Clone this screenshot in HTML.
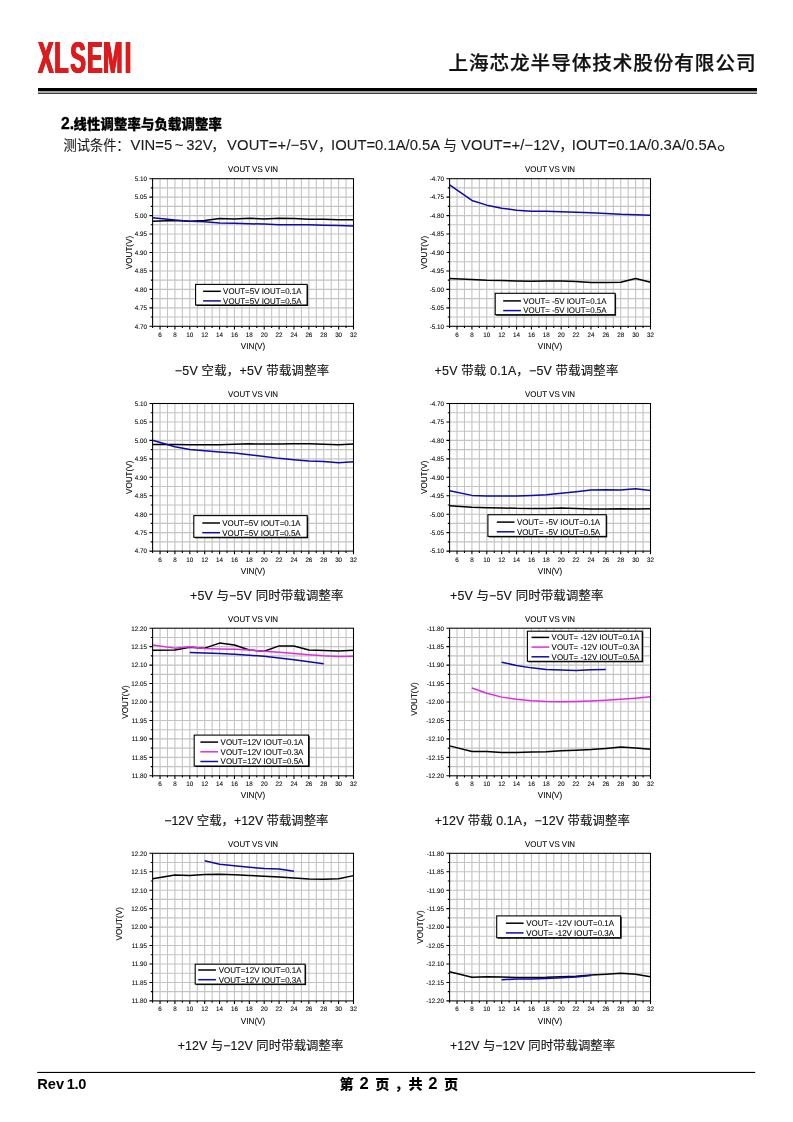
<!DOCTYPE html>
<html lang="zh-CN">
<head>
<meta charset="utf-8">
<title>XLSEMI</title>
<style>
html,body{margin:0;padding:0;background:#fff;}
body{width:793px;height:1122px;overflow:hidden;position:relative;}
svg{position:absolute;left:0;top:0;display:block;}
svg text{font-family:"Liberation Sans","Noto Sans CJK SC",sans-serif;fill:#111;}
svg text.cj{font-family:"Liberation Sans","Noto Sans CJK SC",sans-serif;fill:#222;}
.ch text{fill:#000;stroke:#000;stroke-width:0.08px;text-rendering:geometricPrecision;}
.ch text.cj{fill:#151515;stroke:#151515;stroke-width:0.15px;text-rendering:auto;}
</style>
</head>
<body>
<svg width="793" height="1122" viewBox="0 0 793 1122">
<rect width="793" height="1122" fill="#fff"/>
<!-- header -->
<g style="filter:drop-shadow(0.7px 0 0 #dd1a1c) drop-shadow(-0.7px 0 0 #dd1a1c)"><text transform="translate(0 72.9) scale(0.522 1)" x="73.75 104.79 135.63 167.43 198.47 239.85" y="0" font-size="44.9" font-weight="bold" style="fill:#dd1a1c">XLSEMI</text></g>
<text x="448.5" y="70.2" font-size="19.6" font-weight="500" textLength="307" lengthAdjust="spacing" style="fill:#111;stroke:#111;stroke-width:0.25">上海芯龙半导体技术股份有限公司</text>
<rect x="38" y="88" width="719" height="3" fill="#000"/>
<rect x="38" y="91" width="719" height="2" fill="#a8a8a8"/>
<rect x="38" y="93" width="719" height="1" fill="#404040"/>
<!-- section -->
<text y="128.9" style="fill:#000;stroke:#000;stroke-width:0.3" font-weight="bold"><tspan x="61" font-size="15.7">2.</tspan><tspan x="73.6" font-size="13.3" font-weight="900" textLength="148.2" lengthAdjust="spacing">线性调整率与负载调整率</tspan></text>
<text y="150.4" style="fill:#1c1c1c;stroke:#1c1c1c;stroke-width:0.12" font-size="14.8"><tspan x="63.6" font-size="13.3" textLength="66" lengthAdjust="spacing">测试条件：</tspan><tspan x="130.6">VIN=5</tspan><tspan x="174.7">~</tspan><tspan x="186.3">32V</tspan><tspan x="211.4" font-size="13.3">，</tspan><tspan x="227" textLength="90.8" lengthAdjust="spacing">VOUT=+/−5V</tspan><tspan x="318.2" font-size="13.3">，</tspan><tspan x="331.1">IOUT=0.1A/0.5A</tspan><tspan x="443.6" font-size="13.3">与</tspan><tspan x="461.1" textLength="98.6" lengthAdjust="spacing">VOUT=+/−12V</tspan><tspan x="559.4" font-size="13.3">，</tspan><tspan x="571.8" textLength="144.9" lengthAdjust="spacing">IOUT=0.1A/0.3A/0.5A</tspan><tspan x="717" dy="-1.9" font-size="21">。</tspan></text>
<!-- charts -->
<g class="ch"><path d="M160.04 178.7V326.3M167.48 178.7V326.3M174.92 178.7V326.3M182.36 178.7V326.3M189.8 178.7V326.3M197.24 178.7V326.3M204.69 178.7V326.3M212.13 178.7V326.3M219.57 178.7V326.3M227.01 178.7V326.3M234.45 178.7V326.3M241.89 178.7V326.3M249.33 178.7V326.3M256.77 178.7V326.3M264.21 178.7V326.3M271.65 178.7V326.3M279.09 178.7V326.3M286.53 178.7V326.3M293.97 178.7V326.3M301.41 178.7V326.3M308.86 178.7V326.3M316.3 178.7V326.3M323.74 178.7V326.3M331.18 178.7V326.3M338.62 178.7V326.3M346.06 178.7V326.3M152.6 187.92H353.5M152.6 197.15H353.5M152.6 206.38H353.5M152.6 215.6H353.5M152.6 224.82H353.5M152.6 234.05H353.5M152.6 243.27H353.5M152.6 252.5H353.5M152.6 261.72H353.5M152.6 270.95H353.5M152.6 280.17H353.5M152.6 289.4H353.5M152.6 298.62H353.5M152.6 307.85H353.5M152.6 317.07H353.5" stroke="#c4c4c4" stroke-width="1.1" fill="none"/><polyline points="152.6,221.13 174.92,220.4 189.8,221.13 204.69,220.4 219.57,218.55 234.45,218.92 249.33,218.18 264.21,218.92 279.09,218.18 293.97,218.55 308.86,219.29 323.74,219.29 338.62,219.66 353.5,219.66" stroke="#000000" stroke-width="1.5" fill="none" stroke-linejoin="round"/><polyline points="152.6,217.81 174.92,220.03 189.8,221.13 204.69,221.87 219.57,222.98 234.45,223.35 249.33,223.72 264.21,224.09 279.09,224.83 293.97,224.83 308.86,224.83 323.74,225.19 338.62,225.56 353.5,225.93" stroke="#0c0ca8" stroke-width="1.5" fill="none" stroke-linejoin="round"/><rect x="152.6" y="178.7" width="200.9" height="147.6" fill="none" stroke="#000" stroke-width="1.05"/><path d="M152.6 326.3v1.8M160.04 326.3v3.2M167.48 326.3v1.8M174.92 326.3v3.2M182.36 326.3v1.8M189.8 326.3v3.2M197.24 326.3v1.8M204.69 326.3v3.2M212.13 326.3v1.8M219.57 326.3v3.2M227.01 326.3v1.8M234.45 326.3v3.2M241.89 326.3v1.8M249.33 326.3v3.2M256.77 326.3v1.8M264.21 326.3v3.2M271.65 326.3v1.8M279.09 326.3v3.2M286.53 326.3v1.8M293.97 326.3v3.2M301.41 326.3v1.8M308.86 326.3v3.2M316.3 326.3v1.8M323.74 326.3v3.2M331.18 326.3v1.8M338.62 326.3v3.2M346.06 326.3v1.8M353.5 326.3v3.2M152.6 178.7h-3.2M152.6 187.92h-1.8M152.6 197.15h-3.2M152.6 206.38h-1.8M152.6 215.6h-3.2M152.6 224.82h-1.8M152.6 234.05h-3.2M152.6 243.27h-1.8M152.6 252.5h-3.2M152.6 261.72h-1.8M152.6 270.95h-3.2M152.6 280.17h-1.8M152.6 289.4h-3.2M152.6 298.62h-1.8M152.6 307.85h-3.2M152.6 317.07h-1.8M152.6 326.3h-3.2" stroke="#000" stroke-width="1.1" fill="none"/><text transform="translate(160.04 336.7) scale(0.955 1)" font-size="6.55" text-anchor="middle">6</text><text transform="translate(174.92 336.7) scale(0.955 1)" font-size="6.55" text-anchor="middle">8</text><text transform="translate(189.8 336.7) scale(0.955 1)" font-size="6.55" text-anchor="middle">10</text><text transform="translate(204.69 336.7) scale(0.955 1)" font-size="6.55" text-anchor="middle">12</text><text transform="translate(219.57 336.7) scale(0.955 1)" font-size="6.55" text-anchor="middle">14</text><text transform="translate(234.45 336.7) scale(0.955 1)" font-size="6.55" text-anchor="middle">16</text><text transform="translate(249.33 336.7) scale(0.955 1)" font-size="6.55" text-anchor="middle">18</text><text transform="translate(264.21 336.7) scale(0.955 1)" font-size="6.55" text-anchor="middle">20</text><text transform="translate(279.09 336.7) scale(0.955 1)" font-size="6.55" text-anchor="middle">22</text><text transform="translate(293.97 336.7) scale(0.955 1)" font-size="6.55" text-anchor="middle">24</text><text transform="translate(308.86 336.7) scale(0.955 1)" font-size="6.55" text-anchor="middle">26</text><text transform="translate(323.74 336.7) scale(0.955 1)" font-size="6.55" text-anchor="middle">28</text><text transform="translate(338.62 336.7) scale(0.955 1)" font-size="6.55" text-anchor="middle">30</text><text transform="translate(353.5 336.7) scale(0.955 1)" font-size="6.55" text-anchor="middle">32</text><text transform="translate(147 181) scale(0.955 1)" font-size="6.55" text-anchor="end">5.10</text><text transform="translate(147 199.45) scale(0.955 1)" font-size="6.55" text-anchor="end">5.05</text><text transform="translate(147 217.9) scale(0.955 1)" font-size="6.55" text-anchor="end">5.00</text><text transform="translate(147 236.35) scale(0.955 1)" font-size="6.55" text-anchor="end">4.95</text><text transform="translate(147 254.8) scale(0.955 1)" font-size="6.55" text-anchor="end">4.90</text><text transform="translate(147 273.25) scale(0.955 1)" font-size="6.55" text-anchor="end">4.85</text><text transform="translate(147 291.7) scale(0.955 1)" font-size="6.55" text-anchor="end">4.80</text><text transform="translate(147 310.15) scale(0.955 1)" font-size="6.55" text-anchor="end">4.75</text><text transform="translate(147 328.6) scale(0.955 1)" font-size="6.55" text-anchor="end">4.70</text><text transform="translate(253.05 172.2) scale(0.955 1)" font-size="8.3" text-anchor="middle">VOUT VS VIN</text><text transform="translate(253.05 348.9) scale(0.955 1)" font-size="8.5" text-anchor="middle">VIN(V)</text><text transform="translate(131.7 252.5) rotate(-90) scale(0.955 1)" font-size="8.5" text-anchor="middle">VOUT(V)</text><rect x="196.6" y="285.4" width="111.5" height="20.6" fill="#000"/><rect x="195.6" y="284.4" width="111.5" height="20.6" fill="#fff" stroke="#000" stroke-width="1.1"/><path d="M203.1 291.3H220.8" stroke="#000000" stroke-width="1.5"/><text transform="translate(223.1 294.15) scale(0.955 1)" font-size="8.3">VOUT=5V IOUT=0.1A</text><path d="M203.1 300.9H220.8" stroke="#0c0ca8" stroke-width="1.5"/><text transform="translate(223.1 303.75) scale(0.955 1)" font-size="8.3">VOUT=5V IOUT=0.5A</text><text class="cj" x="174.8" y="375.1" font-size="12.4" textLength="154.4" lengthAdjust="spacing">−5V 空载，+5V 带载调整率</text></g>
<g class="ch"><path d="M457.04 178.7V326.3M464.48 178.7V326.3M471.92 178.7V326.3M479.36 178.7V326.3M486.8 178.7V326.3M494.24 178.7V326.3M501.69 178.7V326.3M509.13 178.7V326.3M516.57 178.7V326.3M524.01 178.7V326.3M531.45 178.7V326.3M538.89 178.7V326.3M546.33 178.7V326.3M553.77 178.7V326.3M561.21 178.7V326.3M568.65 178.7V326.3M576.09 178.7V326.3M583.53 178.7V326.3M590.97 178.7V326.3M598.41 178.7V326.3M605.86 178.7V326.3M613.3 178.7V326.3M620.74 178.7V326.3M628.18 178.7V326.3M635.62 178.7V326.3M643.06 178.7V326.3M449.6 187.92H650.5M449.6 197.15H650.5M449.6 206.38H650.5M449.6 215.6H650.5M449.6 224.82H650.5M449.6 234.05H650.5M449.6 243.27H650.5M449.6 252.5H650.5M449.6 261.72H650.5M449.6 270.95H650.5M449.6 280.17H650.5M449.6 289.4H650.5M449.6 298.62H650.5M449.6 307.85H650.5M449.6 317.07H650.5" stroke="#c4c4c4" stroke-width="1.1" fill="none"/><polyline points="449.6,278.4 471.92,279.51 486.8,280.36 501.69,280.62 516.57,280.91 531.45,281.32 546.33,280.91 561.21,280.91 576.09,281.47 590.97,282.43 605.86,282.57 620.74,282.32 635.62,278.4 650.5,282.32" stroke="#000000" stroke-width="1.5" fill="none" stroke-linejoin="round"/><polyline points="449.6,184.83 471.92,200.43 486.8,205.16 501.69,208.22 516.57,210.18 531.45,211.28 546.33,211.28 561.21,211.69 576.09,212.13 590.97,212.83 605.86,213.5 620.74,214.35 635.62,214.75 650.5,215.19" stroke="#0c0ca8" stroke-width="1.5" fill="none" stroke-linejoin="round"/><rect x="449.6" y="178.7" width="200.9" height="147.6" fill="none" stroke="#000" stroke-width="1.05"/><path d="M449.6 326.3v1.8M457.04 326.3v3.2M464.48 326.3v1.8M471.92 326.3v3.2M479.36 326.3v1.8M486.8 326.3v3.2M494.24 326.3v1.8M501.69 326.3v3.2M509.13 326.3v1.8M516.57 326.3v3.2M524.01 326.3v1.8M531.45 326.3v3.2M538.89 326.3v1.8M546.33 326.3v3.2M553.77 326.3v1.8M561.21 326.3v3.2M568.65 326.3v1.8M576.09 326.3v3.2M583.53 326.3v1.8M590.97 326.3v3.2M598.41 326.3v1.8M605.86 326.3v3.2M613.3 326.3v1.8M620.74 326.3v3.2M628.18 326.3v1.8M635.62 326.3v3.2M643.06 326.3v1.8M650.5 326.3v3.2M449.6 178.7h-3.2M449.6 187.92h-1.8M449.6 197.15h-3.2M449.6 206.38h-1.8M449.6 215.6h-3.2M449.6 224.82h-1.8M449.6 234.05h-3.2M449.6 243.27h-1.8M449.6 252.5h-3.2M449.6 261.72h-1.8M449.6 270.95h-3.2M449.6 280.17h-1.8M449.6 289.4h-3.2M449.6 298.62h-1.8M449.6 307.85h-3.2M449.6 317.07h-1.8M449.6 326.3h-3.2" stroke="#000" stroke-width="1.1" fill="none"/><text transform="translate(457.04 336.7) scale(0.955 1)" font-size="6.55" text-anchor="middle">6</text><text transform="translate(471.92 336.7) scale(0.955 1)" font-size="6.55" text-anchor="middle">8</text><text transform="translate(486.8 336.7) scale(0.955 1)" font-size="6.55" text-anchor="middle">10</text><text transform="translate(501.69 336.7) scale(0.955 1)" font-size="6.55" text-anchor="middle">12</text><text transform="translate(516.57 336.7) scale(0.955 1)" font-size="6.55" text-anchor="middle">14</text><text transform="translate(531.45 336.7) scale(0.955 1)" font-size="6.55" text-anchor="middle">16</text><text transform="translate(546.33 336.7) scale(0.955 1)" font-size="6.55" text-anchor="middle">18</text><text transform="translate(561.21 336.7) scale(0.955 1)" font-size="6.55" text-anchor="middle">20</text><text transform="translate(576.09 336.7) scale(0.955 1)" font-size="6.55" text-anchor="middle">22</text><text transform="translate(590.97 336.7) scale(0.955 1)" font-size="6.55" text-anchor="middle">24</text><text transform="translate(605.86 336.7) scale(0.955 1)" font-size="6.55" text-anchor="middle">26</text><text transform="translate(620.74 336.7) scale(0.955 1)" font-size="6.55" text-anchor="middle">28</text><text transform="translate(635.62 336.7) scale(0.955 1)" font-size="6.55" text-anchor="middle">30</text><text transform="translate(650.5 336.7) scale(0.955 1)" font-size="6.55" text-anchor="middle">32</text><text transform="translate(444 181) scale(0.955 1)" font-size="6.55" text-anchor="end">-4.70</text><text transform="translate(444 199.45) scale(0.955 1)" font-size="6.55" text-anchor="end">-4.75</text><text transform="translate(444 217.9) scale(0.955 1)" font-size="6.55" text-anchor="end">-4.80</text><text transform="translate(444 236.35) scale(0.955 1)" font-size="6.55" text-anchor="end">-4.85</text><text transform="translate(444 254.8) scale(0.955 1)" font-size="6.55" text-anchor="end">-4.90</text><text transform="translate(444 273.25) scale(0.955 1)" font-size="6.55" text-anchor="end">-4.95</text><text transform="translate(444 291.7) scale(0.955 1)" font-size="6.55" text-anchor="end">-5.00</text><text transform="translate(444 310.15) scale(0.955 1)" font-size="6.55" text-anchor="end">-5.05</text><text transform="translate(444 328.6) scale(0.955 1)" font-size="6.55" text-anchor="end">-5.10</text><text transform="translate(550.05 172.2) scale(0.955 1)" font-size="8.3" text-anchor="middle">VOUT VS VIN</text><text transform="translate(550.05 348.9) scale(0.955 1)" font-size="8.5" text-anchor="middle">VIN(V)</text><text transform="translate(426.5 252.5) rotate(-90) scale(0.955 1)" font-size="8.5" text-anchor="middle">VOUT(V)</text><rect x="496.2" y="294.3" width="119.9" height="21.4" fill="#000"/><rect x="495.2" y="293.3" width="119.9" height="21.4" fill="#fff" stroke="#000" stroke-width="1.1"/><path d="M503.2 300.9H520.9" stroke="#000000" stroke-width="1.5"/><text transform="translate(523.3 303.75) scale(0.955 1)" font-size="8.3">VOUT= -5V IOUT=0.1A</text><path d="M503.2 310.6H520.9" stroke="#0c0ca8" stroke-width="1.5"/><text transform="translate(523.3 313.45) scale(0.955 1)" font-size="8.3">VOUT= -5V IOUT=0.5A</text><text class="cj" x="434.6" y="375.1" font-size="12.4" textLength="183.7" lengthAdjust="spacing">+5V 带载 0.1A，−5V 带载调整率</text></g>
<g class="ch"><path d="M160.04 403.5V551.1M167.48 403.5V551.1M174.92 403.5V551.1M182.36 403.5V551.1M189.8 403.5V551.1M197.24 403.5V551.1M204.69 403.5V551.1M212.13 403.5V551.1M219.57 403.5V551.1M227.01 403.5V551.1M234.45 403.5V551.1M241.89 403.5V551.1M249.33 403.5V551.1M256.77 403.5V551.1M264.21 403.5V551.1M271.65 403.5V551.1M279.09 403.5V551.1M286.53 403.5V551.1M293.97 403.5V551.1M301.41 403.5V551.1M308.86 403.5V551.1M316.3 403.5V551.1M323.74 403.5V551.1M331.18 403.5V551.1M338.62 403.5V551.1M346.06 403.5V551.1M152.6 412.73H353.5M152.6 421.95H353.5M152.6 431.18H353.5M152.6 440.4H353.5M152.6 449.62H353.5M152.6 458.85H353.5M152.6 468.07H353.5M152.6 477.3H353.5M152.6 486.52H353.5M152.6 495.75H353.5M152.6 504.98H353.5M152.6 514.2H353.5M152.6 523.42H353.5M152.6 532.65H353.5M152.6 541.88H353.5" stroke="#c4c4c4" stroke-width="1.1" fill="none"/><polyline points="152.6,444.46 174.92,444.46 189.8,444.83 204.69,444.83 219.57,444.83 234.45,444.31 249.33,443.87 264.21,444.09 279.09,444.09 293.97,443.87 308.86,443.87 323.74,444.31 338.62,444.83 353.5,444.09" stroke="#000000" stroke-width="1.5" fill="none" stroke-linejoin="round"/><polyline points="152.6,440.25 174.92,446.67 189.8,449.44 204.69,450.84 219.57,452.1 234.45,453.06 249.33,454.75 264.21,456.41 279.09,458.37 293.97,459.77 308.86,460.88 323.74,461.43 338.62,462.69 353.5,461.84" stroke="#0c0ca8" stroke-width="1.5" fill="none" stroke-linejoin="round"/><rect x="152.6" y="403.5" width="200.9" height="147.6" fill="none" stroke="#000" stroke-width="1.05"/><path d="M152.6 551.1v1.8M160.04 551.1v3.2M167.48 551.1v1.8M174.92 551.1v3.2M182.36 551.1v1.8M189.8 551.1v3.2M197.24 551.1v1.8M204.69 551.1v3.2M212.13 551.1v1.8M219.57 551.1v3.2M227.01 551.1v1.8M234.45 551.1v3.2M241.89 551.1v1.8M249.33 551.1v3.2M256.77 551.1v1.8M264.21 551.1v3.2M271.65 551.1v1.8M279.09 551.1v3.2M286.53 551.1v1.8M293.97 551.1v3.2M301.41 551.1v1.8M308.86 551.1v3.2M316.3 551.1v1.8M323.74 551.1v3.2M331.18 551.1v1.8M338.62 551.1v3.2M346.06 551.1v1.8M353.5 551.1v3.2M152.6 403.5h-3.2M152.6 412.73h-1.8M152.6 421.95h-3.2M152.6 431.18h-1.8M152.6 440.4h-3.2M152.6 449.62h-1.8M152.6 458.85h-3.2M152.6 468.07h-1.8M152.6 477.3h-3.2M152.6 486.52h-1.8M152.6 495.75h-3.2M152.6 504.98h-1.8M152.6 514.2h-3.2M152.6 523.42h-1.8M152.6 532.65h-3.2M152.6 541.88h-1.8M152.6 551.1h-3.2" stroke="#000" stroke-width="1.1" fill="none"/><text transform="translate(160.04 561.5) scale(0.955 1)" font-size="6.55" text-anchor="middle">6</text><text transform="translate(174.92 561.5) scale(0.955 1)" font-size="6.55" text-anchor="middle">8</text><text transform="translate(189.8 561.5) scale(0.955 1)" font-size="6.55" text-anchor="middle">10</text><text transform="translate(204.69 561.5) scale(0.955 1)" font-size="6.55" text-anchor="middle">12</text><text transform="translate(219.57 561.5) scale(0.955 1)" font-size="6.55" text-anchor="middle">14</text><text transform="translate(234.45 561.5) scale(0.955 1)" font-size="6.55" text-anchor="middle">16</text><text transform="translate(249.33 561.5) scale(0.955 1)" font-size="6.55" text-anchor="middle">18</text><text transform="translate(264.21 561.5) scale(0.955 1)" font-size="6.55" text-anchor="middle">20</text><text transform="translate(279.09 561.5) scale(0.955 1)" font-size="6.55" text-anchor="middle">22</text><text transform="translate(293.97 561.5) scale(0.955 1)" font-size="6.55" text-anchor="middle">24</text><text transform="translate(308.86 561.5) scale(0.955 1)" font-size="6.55" text-anchor="middle">26</text><text transform="translate(323.74 561.5) scale(0.955 1)" font-size="6.55" text-anchor="middle">28</text><text transform="translate(338.62 561.5) scale(0.955 1)" font-size="6.55" text-anchor="middle">30</text><text transform="translate(353.5 561.5) scale(0.955 1)" font-size="6.55" text-anchor="middle">32</text><text transform="translate(147 405.8) scale(0.955 1)" font-size="6.55" text-anchor="end">5.10</text><text transform="translate(147 424.25) scale(0.955 1)" font-size="6.55" text-anchor="end">5.05</text><text transform="translate(147 442.7) scale(0.955 1)" font-size="6.55" text-anchor="end">5.00</text><text transform="translate(147 461.15) scale(0.955 1)" font-size="6.55" text-anchor="end">4.95</text><text transform="translate(147 479.6) scale(0.955 1)" font-size="6.55" text-anchor="end">4.90</text><text transform="translate(147 498.05) scale(0.955 1)" font-size="6.55" text-anchor="end">4.85</text><text transform="translate(147 516.5) scale(0.955 1)" font-size="6.55" text-anchor="end">4.80</text><text transform="translate(147 534.95) scale(0.955 1)" font-size="6.55" text-anchor="end">4.75</text><text transform="translate(147 553.4) scale(0.955 1)" font-size="6.55" text-anchor="end">4.70</text><text transform="translate(253.05 397) scale(0.955 1)" font-size="8.3" text-anchor="middle">VOUT VS VIN</text><text transform="translate(253.05 573.7) scale(0.955 1)" font-size="8.5" text-anchor="middle">VIN(V)</text><text transform="translate(131.5 477.3) rotate(-90) scale(0.955 1)" font-size="8.5" text-anchor="middle">VOUT(V)</text><rect x="194.8" y="516.6" width="113.4" height="21.7" fill="#000"/><rect x="193.8" y="515.6" width="113.4" height="21.7" fill="#fff" stroke="#000" stroke-width="1.1"/><path d="M202.3 523H220" stroke="#000000" stroke-width="1.5"/><text transform="translate(222.2 525.85) scale(0.955 1)" font-size="8.3">VOUT=5V IOUT=0.1A</text><path d="M202.3 532.7H220" stroke="#0c0ca8" stroke-width="1.5"/><text transform="translate(222.2 535.55) scale(0.955 1)" font-size="8.3">VOUT=5V IOUT=0.5A</text><text class="cj" x="190" y="599.9" font-size="12.4" textLength="153.4" lengthAdjust="spacing">+5V 与−5V 同时带载调整率</text></g>
<g class="ch"><path d="M457.04 403.5V551.1M464.48 403.5V551.1M471.92 403.5V551.1M479.36 403.5V551.1M486.8 403.5V551.1M494.24 403.5V551.1M501.69 403.5V551.1M509.13 403.5V551.1M516.57 403.5V551.1M524.01 403.5V551.1M531.45 403.5V551.1M538.89 403.5V551.1M546.33 403.5V551.1M553.77 403.5V551.1M561.21 403.5V551.1M568.65 403.5V551.1M576.09 403.5V551.1M583.53 403.5V551.1M590.97 403.5V551.1M598.41 403.5V551.1M605.86 403.5V551.1M613.3 403.5V551.1M620.74 403.5V551.1M628.18 403.5V551.1M635.62 403.5V551.1M643.06 403.5V551.1M449.6 412.73H650.5M449.6 421.95H650.5M449.6 431.18H650.5M449.6 440.4H650.5M449.6 449.62H650.5M449.6 458.85H650.5M449.6 468.07H650.5M449.6 477.3H650.5M449.6 486.52H650.5M449.6 495.75H650.5M449.6 504.98H650.5M449.6 514.2H650.5M449.6 523.42H650.5M449.6 532.65H650.5M449.6 541.88H650.5" stroke="#c4c4c4" stroke-width="1.1" fill="none"/><polyline points="449.6,505.71 471.92,507.37 486.8,507.78 501.69,507.93 516.57,508.37 531.45,508.48 546.33,508.48 561.21,508.07 576.09,508.48 590.97,509.03 605.86,509.03 620.74,508.67 635.62,509.03 650.5,508.67" stroke="#000000" stroke-width="1.5" fill="none" stroke-linejoin="round"/><polyline points="449.6,490.66 471.92,495.38 486.8,495.97 501.69,496.12 516.57,495.97 531.45,495.53 546.33,494.83 561.21,493.17 576.09,491.76 590.97,490.1 605.86,489.7 620.74,490.1 635.62,488.85 650.5,490.4" stroke="#0c0ca8" stroke-width="1.5" fill="none" stroke-linejoin="round"/><rect x="449.6" y="403.5" width="200.9" height="147.6" fill="none" stroke="#000" stroke-width="1.05"/><path d="M449.6 551.1v1.8M457.04 551.1v3.2M464.48 551.1v1.8M471.92 551.1v3.2M479.36 551.1v1.8M486.8 551.1v3.2M494.24 551.1v1.8M501.69 551.1v3.2M509.13 551.1v1.8M516.57 551.1v3.2M524.01 551.1v1.8M531.45 551.1v3.2M538.89 551.1v1.8M546.33 551.1v3.2M553.77 551.1v1.8M561.21 551.1v3.2M568.65 551.1v1.8M576.09 551.1v3.2M583.53 551.1v1.8M590.97 551.1v3.2M598.41 551.1v1.8M605.86 551.1v3.2M613.3 551.1v1.8M620.74 551.1v3.2M628.18 551.1v1.8M635.62 551.1v3.2M643.06 551.1v1.8M650.5 551.1v3.2M449.6 403.5h-3.2M449.6 412.73h-1.8M449.6 421.95h-3.2M449.6 431.18h-1.8M449.6 440.4h-3.2M449.6 449.62h-1.8M449.6 458.85h-3.2M449.6 468.07h-1.8M449.6 477.3h-3.2M449.6 486.52h-1.8M449.6 495.75h-3.2M449.6 504.98h-1.8M449.6 514.2h-3.2M449.6 523.42h-1.8M449.6 532.65h-3.2M449.6 541.88h-1.8M449.6 551.1h-3.2" stroke="#000" stroke-width="1.1" fill="none"/><text transform="translate(457.04 561.5) scale(0.955 1)" font-size="6.55" text-anchor="middle">6</text><text transform="translate(471.92 561.5) scale(0.955 1)" font-size="6.55" text-anchor="middle">8</text><text transform="translate(486.8 561.5) scale(0.955 1)" font-size="6.55" text-anchor="middle">10</text><text transform="translate(501.69 561.5) scale(0.955 1)" font-size="6.55" text-anchor="middle">12</text><text transform="translate(516.57 561.5) scale(0.955 1)" font-size="6.55" text-anchor="middle">14</text><text transform="translate(531.45 561.5) scale(0.955 1)" font-size="6.55" text-anchor="middle">16</text><text transform="translate(546.33 561.5) scale(0.955 1)" font-size="6.55" text-anchor="middle">18</text><text transform="translate(561.21 561.5) scale(0.955 1)" font-size="6.55" text-anchor="middle">20</text><text transform="translate(576.09 561.5) scale(0.955 1)" font-size="6.55" text-anchor="middle">22</text><text transform="translate(590.97 561.5) scale(0.955 1)" font-size="6.55" text-anchor="middle">24</text><text transform="translate(605.86 561.5) scale(0.955 1)" font-size="6.55" text-anchor="middle">26</text><text transform="translate(620.74 561.5) scale(0.955 1)" font-size="6.55" text-anchor="middle">28</text><text transform="translate(635.62 561.5) scale(0.955 1)" font-size="6.55" text-anchor="middle">30</text><text transform="translate(650.5 561.5) scale(0.955 1)" font-size="6.55" text-anchor="middle">32</text><text transform="translate(444 405.8) scale(0.955 1)" font-size="6.55" text-anchor="end">-4.70</text><text transform="translate(444 424.25) scale(0.955 1)" font-size="6.55" text-anchor="end">-4.75</text><text transform="translate(444 442.7) scale(0.955 1)" font-size="6.55" text-anchor="end">-4.80</text><text transform="translate(444 461.15) scale(0.955 1)" font-size="6.55" text-anchor="end">-4.85</text><text transform="translate(444 479.6) scale(0.955 1)" font-size="6.55" text-anchor="end">-4.90</text><text transform="translate(444 498.05) scale(0.955 1)" font-size="6.55" text-anchor="end">-4.95</text><text transform="translate(444 516.5) scale(0.955 1)" font-size="6.55" text-anchor="end">-5.00</text><text transform="translate(444 534.95) scale(0.955 1)" font-size="6.55" text-anchor="end">-5.05</text><text transform="translate(444 553.4) scale(0.955 1)" font-size="6.55" text-anchor="end">-5.10</text><text transform="translate(550.05 397) scale(0.955 1)" font-size="8.3" text-anchor="middle">VOUT VS VIN</text><text transform="translate(550.05 573.7) scale(0.955 1)" font-size="8.5" text-anchor="middle">VIN(V)</text><text transform="translate(426.5 477.3) rotate(-90) scale(0.955 1)" font-size="8.5" text-anchor="middle">VOUT(V)</text><rect x="488.9" y="515.7" width="118.3" height="21.7" fill="#000"/><rect x="487.9" y="514.7" width="118.3" height="21.7" fill="#fff" stroke="#000" stroke-width="1.1"/><path d="M496.8 522.1H514.5" stroke="#000000" stroke-width="1.5"/><text transform="translate(516.9 524.95) scale(0.955 1)" font-size="8.3">VOUT= -5V IOUT=0.1A</text><path d="M496.8 531.8H514.5" stroke="#0c0ca8" stroke-width="1.5"/><text transform="translate(516.9 534.65) scale(0.955 1)" font-size="8.3">VOUT= -5V IOUT=0.5A</text><text class="cj" x="450" y="599.9" font-size="12.4" textLength="153.4" lengthAdjust="spacing">+5V 与−5V 同时带载调整率</text></g>
<g class="ch"><path d="M160.04 628.2V775.8M167.48 628.2V775.8M174.92 628.2V775.8M182.36 628.2V775.8M189.8 628.2V775.8M197.24 628.2V775.8M204.69 628.2V775.8M212.13 628.2V775.8M219.57 628.2V775.8M227.01 628.2V775.8M234.45 628.2V775.8M241.89 628.2V775.8M249.33 628.2V775.8M256.77 628.2V775.8M264.21 628.2V775.8M271.65 628.2V775.8M279.09 628.2V775.8M286.53 628.2V775.8M293.97 628.2V775.8M301.41 628.2V775.8M308.86 628.2V775.8M316.3 628.2V775.8M323.74 628.2V775.8M331.18 628.2V775.8M338.62 628.2V775.8M346.06 628.2V775.8M152.6 637.43H353.5M152.6 646.65H353.5M152.6 655.88H353.5M152.6 665.1H353.5M152.6 674.33H353.5M152.6 683.55H353.5M152.6 692.78H353.5M152.6 702H353.5M152.6 711.23H353.5M152.6 720.45H353.5M152.6 729.68H353.5M152.6 738.9H353.5M152.6 748.12H353.5M152.6 757.35H353.5M152.6 766.58H353.5" stroke="#c4c4c4" stroke-width="1.1" fill="none"/><polyline points="152.6,650.34 174.92,650.04 189.8,647.28 204.69,648.13 219.57,643.11 234.45,645.06 249.33,650.04 264.21,651.19 279.09,645.91 293.97,645.91 308.86,650.04 323.74,650.49 338.62,650.89 353.5,650.34" stroke="#000000" stroke-width="1.5" fill="none" stroke-linejoin="round"/><polyline points="152.6,645.06 174.92,648.13 189.8,646.65 204.69,648.38 219.57,648.94 234.45,649.23 249.33,650.04 264.21,651.19 279.09,652.3 293.97,653.4 308.86,654.77 323.74,655.87 338.62,656.47 353.5,656.21" stroke="#e02ce0" stroke-width="1.5" fill="none" stroke-linejoin="round"/><polyline points="189.8,652.44 204.69,653.11 219.57,653.55 234.45,654.25 249.33,655.21 264.21,656.21 279.09,658.02 293.97,659.82 308.86,661.78 323.74,663.7" stroke="#0c0ca8" stroke-width="1.5" fill="none" stroke-linejoin="round"/><rect x="152.6" y="628.2" width="200.9" height="147.6" fill="none" stroke="#000" stroke-width="1.05"/><path d="M152.6 775.8v1.8M160.04 775.8v3.2M167.48 775.8v1.8M174.92 775.8v3.2M182.36 775.8v1.8M189.8 775.8v3.2M197.24 775.8v1.8M204.69 775.8v3.2M212.13 775.8v1.8M219.57 775.8v3.2M227.01 775.8v1.8M234.45 775.8v3.2M241.89 775.8v1.8M249.33 775.8v3.2M256.77 775.8v1.8M264.21 775.8v3.2M271.65 775.8v1.8M279.09 775.8v3.2M286.53 775.8v1.8M293.97 775.8v3.2M301.41 775.8v1.8M308.86 775.8v3.2M316.3 775.8v1.8M323.74 775.8v3.2M331.18 775.8v1.8M338.62 775.8v3.2M346.06 775.8v1.8M353.5 775.8v3.2M152.6 628.2h-3.2M152.6 637.43h-1.8M152.6 646.65h-3.2M152.6 655.88h-1.8M152.6 665.1h-3.2M152.6 674.33h-1.8M152.6 683.55h-3.2M152.6 692.78h-1.8M152.6 702h-3.2M152.6 711.23h-1.8M152.6 720.45h-3.2M152.6 729.68h-1.8M152.6 738.9h-3.2M152.6 748.12h-1.8M152.6 757.35h-3.2M152.6 766.58h-1.8M152.6 775.8h-3.2" stroke="#000" stroke-width="1.1" fill="none"/><text transform="translate(160.04 786.2) scale(0.955 1)" font-size="6.55" text-anchor="middle">6</text><text transform="translate(174.92 786.2) scale(0.955 1)" font-size="6.55" text-anchor="middle">8</text><text transform="translate(189.8 786.2) scale(0.955 1)" font-size="6.55" text-anchor="middle">10</text><text transform="translate(204.69 786.2) scale(0.955 1)" font-size="6.55" text-anchor="middle">12</text><text transform="translate(219.57 786.2) scale(0.955 1)" font-size="6.55" text-anchor="middle">14</text><text transform="translate(234.45 786.2) scale(0.955 1)" font-size="6.55" text-anchor="middle">16</text><text transform="translate(249.33 786.2) scale(0.955 1)" font-size="6.55" text-anchor="middle">18</text><text transform="translate(264.21 786.2) scale(0.955 1)" font-size="6.55" text-anchor="middle">20</text><text transform="translate(279.09 786.2) scale(0.955 1)" font-size="6.55" text-anchor="middle">22</text><text transform="translate(293.97 786.2) scale(0.955 1)" font-size="6.55" text-anchor="middle">24</text><text transform="translate(308.86 786.2) scale(0.955 1)" font-size="6.55" text-anchor="middle">26</text><text transform="translate(323.74 786.2) scale(0.955 1)" font-size="6.55" text-anchor="middle">28</text><text transform="translate(338.62 786.2) scale(0.955 1)" font-size="6.55" text-anchor="middle">30</text><text transform="translate(353.5 786.2) scale(0.955 1)" font-size="6.55" text-anchor="middle">32</text><text transform="translate(147 630.5) scale(0.955 1)" font-size="6.55" text-anchor="end">12.20</text><text transform="translate(147 648.95) scale(0.955 1)" font-size="6.55" text-anchor="end">12.15</text><text transform="translate(147 667.4) scale(0.955 1)" font-size="6.55" text-anchor="end">12.10</text><text transform="translate(147 685.85) scale(0.955 1)" font-size="6.55" text-anchor="end">12.05</text><text transform="translate(147 704.3) scale(0.955 1)" font-size="6.55" text-anchor="end">12.00</text><text transform="translate(147 722.75) scale(0.955 1)" font-size="6.55" text-anchor="end">11.95</text><text transform="translate(147 741.2) scale(0.955 1)" font-size="6.55" text-anchor="end">11.90</text><text transform="translate(147 759.65) scale(0.955 1)" font-size="6.55" text-anchor="end">11.85</text><text transform="translate(147 778.1) scale(0.955 1)" font-size="6.55" text-anchor="end">11.80</text><text transform="translate(253.05 621.7) scale(0.955 1)" font-size="8.3" text-anchor="middle">VOUT VS VIN</text><text transform="translate(253.05 798.4) scale(0.955 1)" font-size="8.5" text-anchor="middle">VIN(V)</text><text transform="translate(128.4 702) rotate(-90) scale(0.955 1)" font-size="8.5" text-anchor="middle">VOUT(V)</text><rect x="195.2" y="736.1" width="114.4" height="30.9" fill="#000"/><rect x="194.2" y="735.1" width="114.4" height="30.9" fill="#fff" stroke="#000" stroke-width="1.1"/><path d="M200.4 742.1H218.1" stroke="#000000" stroke-width="1.5"/><text transform="translate(220.6 744.95) scale(0.955 1)" font-size="8.3">VOUT=12V IOUT=0.1A</text><path d="M200.4 751.8H218.1" stroke="#e02ce0" stroke-width="1.5"/><text transform="translate(220.6 754.65) scale(0.955 1)" font-size="8.3">VOUT=12V IOUT=0.3A</text><path d="M200.4 761.5H218.1" stroke="#0c0ca8" stroke-width="1.5"/><text transform="translate(220.6 764.35) scale(0.955 1)" font-size="8.3">VOUT=12V IOUT=0.5A</text><text class="cj" x="164.2" y="824.6" font-size="12.4" textLength="164.2" lengthAdjust="spacing">−12V 空载，+12V 带载调整率</text></g>
<g class="ch"><path d="M457.04 628.2V775.8M464.48 628.2V775.8M471.92 628.2V775.8M479.36 628.2V775.8M486.8 628.2V775.8M494.24 628.2V775.8M501.69 628.2V775.8M509.13 628.2V775.8M516.57 628.2V775.8M524.01 628.2V775.8M531.45 628.2V775.8M538.89 628.2V775.8M546.33 628.2V775.8M553.77 628.2V775.8M561.21 628.2V775.8M568.65 628.2V775.8M576.09 628.2V775.8M583.53 628.2V775.8M590.97 628.2V775.8M598.41 628.2V775.8M605.86 628.2V775.8M613.3 628.2V775.8M620.74 628.2V775.8M628.18 628.2V775.8M635.62 628.2V775.8M643.06 628.2V775.8M449.6 637.43H650.5M449.6 646.65H650.5M449.6 655.88H650.5M449.6 665.1H650.5M449.6 674.33H650.5M449.6 683.55H650.5M449.6 692.78H650.5M449.6 702H650.5M449.6 711.23H650.5M449.6 720.45H650.5M449.6 729.68H650.5M449.6 738.9H650.5M449.6 748.12H650.5M449.6 757.35H650.5M449.6 766.58H650.5" stroke="#c4c4c4" stroke-width="1.1" fill="none"/><polyline points="449.6,745.87 471.92,751.45 486.8,751.56 501.69,752.55 516.57,752.55 531.45,752 546.33,751.7 561.21,750.74 576.09,750.19 590.97,749.49 605.86,748.38 620.74,746.98 635.62,748.09 650.5,749.23" stroke="#000000" stroke-width="1.5" fill="none" stroke-linejoin="round"/><polyline points="471.92,687.94 486.8,693.22 501.69,697.13 516.57,699.34 531.45,700.75 546.33,701.59 561.21,701.85 576.09,701.59 590.97,701.04 605.86,700.19 620.74,699.34 635.62,698.24 650.5,696.83" stroke="#e02ce0" stroke-width="1.5" fill="none" stroke-linejoin="round"/><polyline points="501.69,662.33 516.57,665.4 531.45,667.87 546.33,669.42 561.21,669.97 576.09,670.38 590.97,669.82 605.86,669.42" stroke="#0c0ca8" stroke-width="1.5" fill="none" stroke-linejoin="round"/><rect x="449.6" y="628.2" width="200.9" height="147.6" fill="none" stroke="#000" stroke-width="1.05"/><path d="M449.6 775.8v1.8M457.04 775.8v3.2M464.48 775.8v1.8M471.92 775.8v3.2M479.36 775.8v1.8M486.8 775.8v3.2M494.24 775.8v1.8M501.69 775.8v3.2M509.13 775.8v1.8M516.57 775.8v3.2M524.01 775.8v1.8M531.45 775.8v3.2M538.89 775.8v1.8M546.33 775.8v3.2M553.77 775.8v1.8M561.21 775.8v3.2M568.65 775.8v1.8M576.09 775.8v3.2M583.53 775.8v1.8M590.97 775.8v3.2M598.41 775.8v1.8M605.86 775.8v3.2M613.3 775.8v1.8M620.74 775.8v3.2M628.18 775.8v1.8M635.62 775.8v3.2M643.06 775.8v1.8M650.5 775.8v3.2M449.6 628.2h-3.2M449.6 637.43h-1.8M449.6 646.65h-3.2M449.6 655.88h-1.8M449.6 665.1h-3.2M449.6 674.33h-1.8M449.6 683.55h-3.2M449.6 692.78h-1.8M449.6 702h-3.2M449.6 711.23h-1.8M449.6 720.45h-3.2M449.6 729.68h-1.8M449.6 738.9h-3.2M449.6 748.12h-1.8M449.6 757.35h-3.2M449.6 766.58h-1.8M449.6 775.8h-3.2" stroke="#000" stroke-width="1.1" fill="none"/><text transform="translate(457.04 786.2) scale(0.955 1)" font-size="6.55" text-anchor="middle">6</text><text transform="translate(471.92 786.2) scale(0.955 1)" font-size="6.55" text-anchor="middle">8</text><text transform="translate(486.8 786.2) scale(0.955 1)" font-size="6.55" text-anchor="middle">10</text><text transform="translate(501.69 786.2) scale(0.955 1)" font-size="6.55" text-anchor="middle">12</text><text transform="translate(516.57 786.2) scale(0.955 1)" font-size="6.55" text-anchor="middle">14</text><text transform="translate(531.45 786.2) scale(0.955 1)" font-size="6.55" text-anchor="middle">16</text><text transform="translate(546.33 786.2) scale(0.955 1)" font-size="6.55" text-anchor="middle">18</text><text transform="translate(561.21 786.2) scale(0.955 1)" font-size="6.55" text-anchor="middle">20</text><text transform="translate(576.09 786.2) scale(0.955 1)" font-size="6.55" text-anchor="middle">22</text><text transform="translate(590.97 786.2) scale(0.955 1)" font-size="6.55" text-anchor="middle">24</text><text transform="translate(605.86 786.2) scale(0.955 1)" font-size="6.55" text-anchor="middle">26</text><text transform="translate(620.74 786.2) scale(0.955 1)" font-size="6.55" text-anchor="middle">28</text><text transform="translate(635.62 786.2) scale(0.955 1)" font-size="6.55" text-anchor="middle">30</text><text transform="translate(650.5 786.2) scale(0.955 1)" font-size="6.55" text-anchor="middle">32</text><text transform="translate(444 630.5) scale(0.955 1)" font-size="6.55" text-anchor="end">-11.80</text><text transform="translate(444 648.95) scale(0.955 1)" font-size="6.55" text-anchor="end">-11.85</text><text transform="translate(444 667.4) scale(0.955 1)" font-size="6.55" text-anchor="end">-11.90</text><text transform="translate(444 685.85) scale(0.955 1)" font-size="6.55" text-anchor="end">-11.95</text><text transform="translate(444 704.3) scale(0.955 1)" font-size="6.55" text-anchor="end">-12.00</text><text transform="translate(444 722.75) scale(0.955 1)" font-size="6.55" text-anchor="end">-12.05</text><text transform="translate(444 741.2) scale(0.955 1)" font-size="6.55" text-anchor="end">-12.10</text><text transform="translate(444 759.65) scale(0.955 1)" font-size="6.55" text-anchor="end">-12.15</text><text transform="translate(444 778.1) scale(0.955 1)" font-size="6.55" text-anchor="end">-12.20</text><text transform="translate(550.05 621.7) scale(0.955 1)" font-size="8.3" text-anchor="middle">VOUT VS VIN</text><text transform="translate(550.05 798.4) scale(0.955 1)" font-size="8.5" text-anchor="middle">VIN(V)</text><text transform="translate(416.9 699) rotate(-90) scale(0.955 1)" font-size="8.5" text-anchor="middle">VOUT(V)</text><rect x="528.4" y="632.2" width="114.8" height="30.1" fill="#000"/><rect x="527.4" y="631.2" width="114.8" height="30.1" fill="#fff" stroke="#000" stroke-width="1.1"/><path d="M531.5 637.4H549.2" stroke="#000000" stroke-width="1.5"/><text transform="translate(551.6 640.25) scale(0.955 1)" font-size="8.3">VOUT= -12V IOUT=0.1A</text><path d="M531.5 647.1H549.2" stroke="#e02ce0" stroke-width="1.5"/><text transform="translate(551.6 649.95) scale(0.955 1)" font-size="8.3">VOUT= -12V IOUT=0.3A</text><path d="M531.5 656.8H549.2" stroke="#0c0ca8" stroke-width="1.5"/><text transform="translate(551.6 659.65) scale(0.955 1)" font-size="8.3">VOUT= -12V IOUT=0.5A</text><text class="cj" x="434.7" y="824.6" font-size="12.4" textLength="195.1" lengthAdjust="spacing">+12V 带载 0.1A，−12V 带载调整率</text></g>
<g class="ch"><path d="M160.04 853.3V1000.9M167.48 853.3V1000.9M174.92 853.3V1000.9M182.36 853.3V1000.9M189.8 853.3V1000.9M197.24 853.3V1000.9M204.69 853.3V1000.9M212.13 853.3V1000.9M219.57 853.3V1000.9M227.01 853.3V1000.9M234.45 853.3V1000.9M241.89 853.3V1000.9M249.33 853.3V1000.9M256.77 853.3V1000.9M264.21 853.3V1000.9M271.65 853.3V1000.9M279.09 853.3V1000.9M286.53 853.3V1000.9M293.97 853.3V1000.9M301.41 853.3V1000.9M308.86 853.3V1000.9M316.3 853.3V1000.9M323.74 853.3V1000.9M331.18 853.3V1000.9M338.62 853.3V1000.9M346.06 853.3V1000.9M152.6 862.52H353.5M152.6 871.75H353.5M152.6 880.97H353.5M152.6 890.2H353.5M152.6 899.42H353.5M152.6 908.65H353.5M152.6 917.88H353.5M152.6 927.1H353.5M152.6 936.32H353.5M152.6 945.55H353.5M152.6 954.77H353.5M152.6 964H353.5M152.6 973.22H353.5M152.6 982.45H353.5M152.6 991.67H353.5" stroke="#c4c4c4" stroke-width="1.1" fill="none"/><polyline points="152.6,878.69 174.92,875.07 189.8,875.62 204.69,874.48 219.57,874.37 234.45,874.78 249.33,875.44 264.21,876.18 279.09,876.99 293.97,878.02 308.86,878.95 323.74,879.35 338.62,878.69 353.5,875.62" stroke="#000000" stroke-width="1.5" fill="none" stroke-linejoin="round"/><polyline points="204.69,860.83 219.57,864.19 234.45,865.85 249.33,867.25 264.21,868.5 279.09,868.91 293.97,871.16" stroke="#0c0ca8" stroke-width="1.5" fill="none" stroke-linejoin="round"/><rect x="152.6" y="853.3" width="200.9" height="147.6" fill="none" stroke="#000" stroke-width="1.05"/><path d="M152.6 1000.9v1.8M160.04 1000.9v3.2M167.48 1000.9v1.8M174.92 1000.9v3.2M182.36 1000.9v1.8M189.8 1000.9v3.2M197.24 1000.9v1.8M204.69 1000.9v3.2M212.13 1000.9v1.8M219.57 1000.9v3.2M227.01 1000.9v1.8M234.45 1000.9v3.2M241.89 1000.9v1.8M249.33 1000.9v3.2M256.77 1000.9v1.8M264.21 1000.9v3.2M271.65 1000.9v1.8M279.09 1000.9v3.2M286.53 1000.9v1.8M293.97 1000.9v3.2M301.41 1000.9v1.8M308.86 1000.9v3.2M316.3 1000.9v1.8M323.74 1000.9v3.2M331.18 1000.9v1.8M338.62 1000.9v3.2M346.06 1000.9v1.8M353.5 1000.9v3.2M152.6 853.3h-3.2M152.6 862.52h-1.8M152.6 871.75h-3.2M152.6 880.97h-1.8M152.6 890.2h-3.2M152.6 899.42h-1.8M152.6 908.65h-3.2M152.6 917.88h-1.8M152.6 927.1h-3.2M152.6 936.32h-1.8M152.6 945.55h-3.2M152.6 954.77h-1.8M152.6 964h-3.2M152.6 973.22h-1.8M152.6 982.45h-3.2M152.6 991.67h-1.8M152.6 1000.9h-3.2" stroke="#000" stroke-width="1.1" fill="none"/><text transform="translate(160.04 1011.3) scale(0.955 1)" font-size="6.55" text-anchor="middle">6</text><text transform="translate(174.92 1011.3) scale(0.955 1)" font-size="6.55" text-anchor="middle">8</text><text transform="translate(189.8 1011.3) scale(0.955 1)" font-size="6.55" text-anchor="middle">10</text><text transform="translate(204.69 1011.3) scale(0.955 1)" font-size="6.55" text-anchor="middle">12</text><text transform="translate(219.57 1011.3) scale(0.955 1)" font-size="6.55" text-anchor="middle">14</text><text transform="translate(234.45 1011.3) scale(0.955 1)" font-size="6.55" text-anchor="middle">16</text><text transform="translate(249.33 1011.3) scale(0.955 1)" font-size="6.55" text-anchor="middle">18</text><text transform="translate(264.21 1011.3) scale(0.955 1)" font-size="6.55" text-anchor="middle">20</text><text transform="translate(279.09 1011.3) scale(0.955 1)" font-size="6.55" text-anchor="middle">22</text><text transform="translate(293.97 1011.3) scale(0.955 1)" font-size="6.55" text-anchor="middle">24</text><text transform="translate(308.86 1011.3) scale(0.955 1)" font-size="6.55" text-anchor="middle">26</text><text transform="translate(323.74 1011.3) scale(0.955 1)" font-size="6.55" text-anchor="middle">28</text><text transform="translate(338.62 1011.3) scale(0.955 1)" font-size="6.55" text-anchor="middle">30</text><text transform="translate(353.5 1011.3) scale(0.955 1)" font-size="6.55" text-anchor="middle">32</text><text transform="translate(147 855.6) scale(0.955 1)" font-size="6.55" text-anchor="end">12.20</text><text transform="translate(147 874.05) scale(0.955 1)" font-size="6.55" text-anchor="end">12.15</text><text transform="translate(147 892.5) scale(0.955 1)" font-size="6.55" text-anchor="end">12.10</text><text transform="translate(147 910.95) scale(0.955 1)" font-size="6.55" text-anchor="end">12.05</text><text transform="translate(147 929.4) scale(0.955 1)" font-size="6.55" text-anchor="end">12.00</text><text transform="translate(147 947.85) scale(0.955 1)" font-size="6.55" text-anchor="end">11.95</text><text transform="translate(147 966.3) scale(0.955 1)" font-size="6.55" text-anchor="end">11.90</text><text transform="translate(147 984.75) scale(0.955 1)" font-size="6.55" text-anchor="end">11.85</text><text transform="translate(147 1003.2) scale(0.955 1)" font-size="6.55" text-anchor="end">11.80</text><text transform="translate(253.05 846.8) scale(0.955 1)" font-size="8.3" text-anchor="middle">VOUT VS VIN</text><text transform="translate(253.05 1023.5) scale(0.955 1)" font-size="8.5" text-anchor="middle">VIN(V)</text><text transform="translate(122.2 923.8) rotate(-90) scale(0.955 1)" font-size="8.5" text-anchor="middle">VOUT(V)</text><rect x="196.2" y="965.2" width="109.9" height="19.9" fill="#000"/><rect x="195.2" y="964.2" width="109.9" height="19.9" fill="#fff" stroke="#000" stroke-width="1.1"/><path d="M198.2 970H215.9" stroke="#000000" stroke-width="1.5"/><text transform="translate(218.7 972.85) scale(0.955 1)" font-size="8.3">VOUT=12V IOUT=0.1A</text><path d="M198.2 979.7H215.9" stroke="#0c0ca8" stroke-width="1.5"/><text transform="translate(218.7 982.55) scale(0.955 1)" font-size="8.3">VOUT=12V IOUT=0.3A</text><text class="cj" x="177.8" y="1049.7" font-size="12.4" textLength="165.6" lengthAdjust="spacing">+12V 与−12V 同时带载调整率</text></g>
<g class="ch"><path d="M457.04 853.3V1000.9M464.48 853.3V1000.9M471.92 853.3V1000.9M479.36 853.3V1000.9M486.8 853.3V1000.9M494.24 853.3V1000.9M501.69 853.3V1000.9M509.13 853.3V1000.9M516.57 853.3V1000.9M524.01 853.3V1000.9M531.45 853.3V1000.9M538.89 853.3V1000.9M546.33 853.3V1000.9M553.77 853.3V1000.9M561.21 853.3V1000.9M568.65 853.3V1000.9M576.09 853.3V1000.9M583.53 853.3V1000.9M590.97 853.3V1000.9M598.41 853.3V1000.9M605.86 853.3V1000.9M613.3 853.3V1000.9M620.74 853.3V1000.9M628.18 853.3V1000.9M635.62 853.3V1000.9M643.06 853.3V1000.9M449.6 862.52H650.5M449.6 871.75H650.5M449.6 880.97H650.5M449.6 890.2H650.5M449.6 899.42H650.5M449.6 908.65H650.5M449.6 917.88H650.5M449.6 927.1H650.5M449.6 936.32H650.5M449.6 945.55H650.5M449.6 954.77H650.5M449.6 964H650.5M449.6 973.22H650.5M449.6 982.45H650.5M449.6 991.67H650.5" stroke="#c4c4c4" stroke-width="1.1" fill="none"/><polyline points="449.6,971.68 471.92,977.28 486.8,976.84 501.69,976.99 516.57,977.54 531.45,977.54 546.33,977.28 561.21,976.69 576.09,976.18 590.97,975.07 605.86,974.18 620.74,973.23 635.62,974.18 650.5,976.69" stroke="#000000" stroke-width="1.5" fill="none" stroke-linejoin="round"/><polyline points="501.69,979.76 516.57,979.06 531.45,978.94 546.33,978.39 561.21,977.8 576.09,976.99 590.97,975.59" stroke="#0c0ca8" stroke-width="1.5" fill="none" stroke-linejoin="round"/><rect x="449.6" y="853.3" width="200.9" height="147.6" fill="none" stroke="#000" stroke-width="1.05"/><path d="M449.6 1000.9v1.8M457.04 1000.9v3.2M464.48 1000.9v1.8M471.92 1000.9v3.2M479.36 1000.9v1.8M486.8 1000.9v3.2M494.24 1000.9v1.8M501.69 1000.9v3.2M509.13 1000.9v1.8M516.57 1000.9v3.2M524.01 1000.9v1.8M531.45 1000.9v3.2M538.89 1000.9v1.8M546.33 1000.9v3.2M553.77 1000.9v1.8M561.21 1000.9v3.2M568.65 1000.9v1.8M576.09 1000.9v3.2M583.53 1000.9v1.8M590.97 1000.9v3.2M598.41 1000.9v1.8M605.86 1000.9v3.2M613.3 1000.9v1.8M620.74 1000.9v3.2M628.18 1000.9v1.8M635.62 1000.9v3.2M643.06 1000.9v1.8M650.5 1000.9v3.2M449.6 853.3h-3.2M449.6 862.52h-1.8M449.6 871.75h-3.2M449.6 880.97h-1.8M449.6 890.2h-3.2M449.6 899.42h-1.8M449.6 908.65h-3.2M449.6 917.88h-1.8M449.6 927.1h-3.2M449.6 936.32h-1.8M449.6 945.55h-3.2M449.6 954.77h-1.8M449.6 964h-3.2M449.6 973.22h-1.8M449.6 982.45h-3.2M449.6 991.67h-1.8M449.6 1000.9h-3.2" stroke="#000" stroke-width="1.1" fill="none"/><text transform="translate(457.04 1011.3) scale(0.955 1)" font-size="6.55" text-anchor="middle">6</text><text transform="translate(471.92 1011.3) scale(0.955 1)" font-size="6.55" text-anchor="middle">8</text><text transform="translate(486.8 1011.3) scale(0.955 1)" font-size="6.55" text-anchor="middle">10</text><text transform="translate(501.69 1011.3) scale(0.955 1)" font-size="6.55" text-anchor="middle">12</text><text transform="translate(516.57 1011.3) scale(0.955 1)" font-size="6.55" text-anchor="middle">14</text><text transform="translate(531.45 1011.3) scale(0.955 1)" font-size="6.55" text-anchor="middle">16</text><text transform="translate(546.33 1011.3) scale(0.955 1)" font-size="6.55" text-anchor="middle">18</text><text transform="translate(561.21 1011.3) scale(0.955 1)" font-size="6.55" text-anchor="middle">20</text><text transform="translate(576.09 1011.3) scale(0.955 1)" font-size="6.55" text-anchor="middle">22</text><text transform="translate(590.97 1011.3) scale(0.955 1)" font-size="6.55" text-anchor="middle">24</text><text transform="translate(605.86 1011.3) scale(0.955 1)" font-size="6.55" text-anchor="middle">26</text><text transform="translate(620.74 1011.3) scale(0.955 1)" font-size="6.55" text-anchor="middle">28</text><text transform="translate(635.62 1011.3) scale(0.955 1)" font-size="6.55" text-anchor="middle">30</text><text transform="translate(650.5 1011.3) scale(0.955 1)" font-size="6.55" text-anchor="middle">32</text><text transform="translate(444 855.6) scale(0.955 1)" font-size="6.55" text-anchor="end">-11.80</text><text transform="translate(444 874.05) scale(0.955 1)" font-size="6.55" text-anchor="end">-11.85</text><text transform="translate(444 892.5) scale(0.955 1)" font-size="6.55" text-anchor="end">-11.90</text><text transform="translate(444 910.95) scale(0.955 1)" font-size="6.55" text-anchor="end">-11.95</text><text transform="translate(444 929.4) scale(0.955 1)" font-size="6.55" text-anchor="end">-12.00</text><text transform="translate(444 947.85) scale(0.955 1)" font-size="6.55" text-anchor="end">-12.05</text><text transform="translate(444 966.3) scale(0.955 1)" font-size="6.55" text-anchor="end">-12.10</text><text transform="translate(444 984.75) scale(0.955 1)" font-size="6.55" text-anchor="end">-12.15</text><text transform="translate(444 1003.2) scale(0.955 1)" font-size="6.55" text-anchor="end">-12.20</text><text transform="translate(550.05 846.8) scale(0.955 1)" font-size="8.3" text-anchor="middle">VOUT VS VIN</text><text transform="translate(550.05 1023.5) scale(0.955 1)" font-size="8.5" text-anchor="middle">VIN(V)</text><text transform="translate(422.8 927.1) rotate(-90) scale(0.955 1)" font-size="8.5" text-anchor="middle">VOUT(V)</text><rect x="497.7" y="916.9" width="123.9" height="21.8" fill="#000"/><rect x="496.7" y="915.9" width="123.9" height="21.8" fill="#fff" stroke="#000" stroke-width="1.1"/><path d="M505.9 923.2H523.6" stroke="#000000" stroke-width="1.5"/><text transform="translate(526.3 926.05) scale(0.955 1)" font-size="8.3">VOUT= -12V IOUT=0.1A</text><path d="M505.9 932.9H523.6" stroke="#0c0ca8" stroke-width="1.5"/><text transform="translate(526.3 935.75) scale(0.955 1)" font-size="8.3">VOUT= -12V IOUT=0.3A</text><text class="cj" x="450" y="1049.7" font-size="12.4" textLength="165.1" lengthAdjust="spacing">+12V 与−12V 同时带载调整率</text></g>
<!-- footer -->
<rect x="37.2" y="1071.9" width="718" height="1.1" fill="#000"/>
<text transform="translate(37.2 1088.9) scale(0.95 1)" font-size="15.4" font-weight="bold" style="fill:#000"><tspan x="0">Rev </tspan><tspan x="31.2" textLength="20.6" lengthAdjust="spacing">1.0</tspan></text>
<text y="1088.6" font-size="14.1" font-weight="900" style="fill:#000"><tspan x="339.5">第 </tspan><tspan x="359.6" y="1088.9" font-size="16.6" font-weight="bold">2 </tspan><tspan x="375.3" y="1088.6">页</tspan><tspan x="394.6">，</tspan><tspan x="408.6">共 </tspan><tspan x="428.2" y="1088.9" font-size="16.6" font-weight="bold">2 </tspan><tspan x="443.9" y="1088.6">页</tspan></text>
</svg>
</body>
</html>
